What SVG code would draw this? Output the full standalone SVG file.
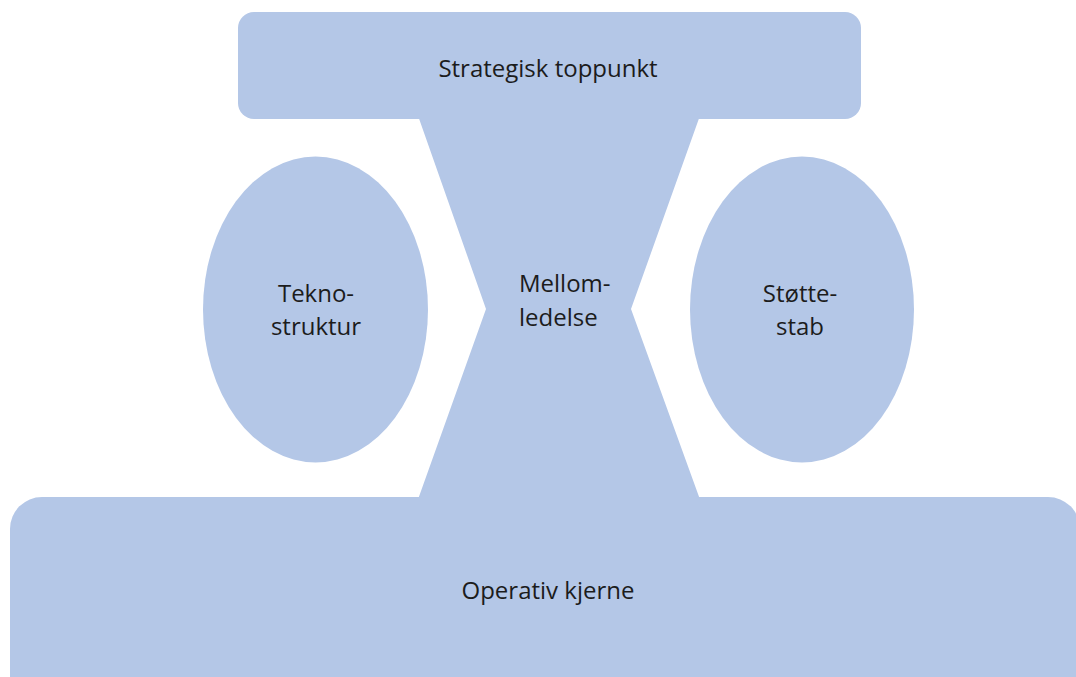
<svg xmlns="http://www.w3.org/2000/svg" width="1076" height="677" viewBox="0 0 1076 677">
  <style>
    .shape { fill: #b4c7e7; }
    .label { font-family: "Open Sans", "Liberation Sans", sans-serif; font-size: 24px; fill: #1c1c1c; text-anchor: middle; }
    .left { text-anchor: start; }
  </style>
  <rect width="1076" height="677" fill="#ffffff"/>

  <!-- Middle line: hourglass between apex and core -->
  <g id="mellomledelse">
    <polygon class="shape" points="416,110 702,110 631,309 702,505 416,505 486,309"/>
    <text class="label left" x="519" y="292">Mellom-</text>
    <text class="label left" x="519" y="326">ledelse</text>
  </g>

  <g id="strategisk-toppunkt">
    <rect class="shape" x="238" y="12" width="623" height="107" rx="16" ry="16"/>
    <text class="label" x="548" y="77">Strategisk toppunkt</text>
  </g>

  <g id="operativ-kjerne">
    <rect class="shape" x="10" y="497" width="1070" height="240" rx="32" ry="32"/>
    <text class="label" x="548" y="599">Operativ kjerne</text>
  </g>

  <g id="teknostruktur">
    <ellipse class="shape" cx="315.5" cy="309.5" rx="112.5" ry="153"/>
    <text class="label" x="316" y="302">Tekno-</text>
    <text class="label" x="316" y="335">struktur</text>
  </g>

  <g id="stottestab">
    <ellipse class="shape" cx="802" cy="309.5" rx="112" ry="153"/>
    <text class="label" x="800" y="302">Støtte-</text>
    <text class="label" x="800" y="335">stab</text>
  </g>

  <g id="connectors"/>
</svg>
